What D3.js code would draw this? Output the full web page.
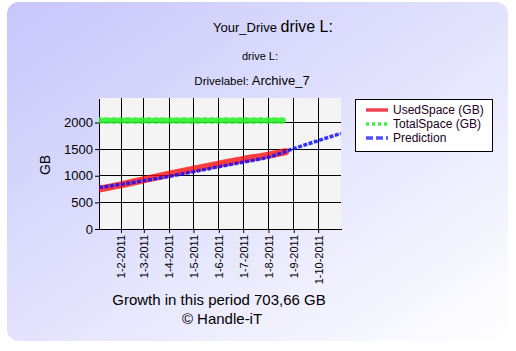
<!DOCTYPE html>
<html>
<head>
<meta charset="utf-8">
<script src="https://cdn.jsdelivr.net/npm/d3@7"></script>
<style>
  body { margin: 0; background: #fff; }
  svg { display: block; font-family: "Liberation Sans", Arial, sans-serif; }
</style>
</head>
<body>
<svg id="chart" width="516" height="351"></svg>
<script>
// data
const usedDates = ["2011-01-05", "2011-02-01", "2011-03-01", "2011-04-01", "2011-05-01", "2011-06-01", "2011-07-01", "2011-08-01", "2011-08-22"];
const usedValues = [748, 830, 925, 1030, 1125, 1218, 1305, 1387, 1451];
const totalDates = ["2011-01-05", "2011-08-22"];
const totalValues = [2036, 2036];
const predDates = ["2011-01-05", "2011-02-01", "2011-03-01", "2011-04-01", "2011-05-01", "2011-06-01", "2011-07-01", "2011-08-01", "2011-09-01", "2011-10-29"];
const predValues = [780, 838, 908, 987, 1076, 1169, 1255, 1350, 1510, 1795];
const tickDates = ["2011-02-01", "2011-03-01", "2011-04-01", "2011-05-01", "2011-06-01", "2011-07-01", "2011-08-01", "2011-09-01", "2011-10-01"];
const yTicks = [0, 500, 1000, 1500, 2000];
const legendNames = ["UsedSpace (GB)", "TotalSpace (GB)", "Prediction"];

const parse = d3.utcParse("%Y-%m-%d");
const svg = d3.select("#chart");

// background panel
const defs = svg.append("defs");
const grad = defs.append("linearGradient").attr("id", "bg")
    .attr("x1", "0%").attr("y1", "0%").attr("x2", "100%").attr("y2", "100%");
grad.append("stop").attr("offset", "0%").attr("stop-color", "#c6c6fb");
grad.append("stop").attr("offset", "100%").attr("stop-color", "#ffffff");
svg.append("rect").attr("x", 7).attr("y", 2).attr("width", 501).attr("height", 339)
    .attr("rx", 12).attr("fill", "url(#bg)");

const plot = { left: 99, right: 341, top: 98, bottom: 229 };

const x = d3.scaleUtc()
    .domain([parse("2011-01-05"), parse("2011-10-29")])
    .range([plot.left, plot.right]);
const y = d3.scaleLinear()
    .domain([0, 2460])
    .range([plot.bottom, plot.top]);

// plot background
svg.append("rect").attr("x", plot.left).attr("y", plot.top)
    .attr("width", plot.right - plot.left).attr("height", plot.bottom - plot.top)
    .attr("fill", "#f4f4f4");

// grid
svg.append("g").selectAll("line").data(tickDates.map(parse)).join("line")
    .attr("x1", d => x(d)).attr("x2", d => x(d))
    .attr("y1", plot.top).attr("y2", plot.bottom)
    .attr("stroke", "#000").attr("shape-rendering", "crispEdges");
svg.append("g").selectAll("line").data(yTicks.slice(1)).join("line")
    .attr("x1", plot.left).attr("x2", plot.right)
    .attr("y1", d => y(d)).attr("y2", d => y(d))
    .attr("stroke", "#000").attr("shape-rendering", "crispEdges");

// axes
const xAxis = svg.append("g")
    .attr("transform", `translate(0,${plot.bottom})`)
    .call(d3.axisBottom(x).tickValues(tickDates.map(parse))
        .tickFormat(d3.utcFormat("%-d-%-m-%Y")).tickSize(4).tickSizeOuter(0));
xAxis.select(".domain").attr("stroke", "#000");
xAxis.selectAll("text")
    .attr("transform", "rotate(-90)")
    .attr("x", -6).attr("y", 0).attr("dy", "0.35em")
    .style("text-anchor", "end")
    .style("font-size", "11px")
    .attr("fill", "#000");

const yAxis = svg.append("g")
    .attr("transform", `translate(${plot.left},0)`)
    .call(d3.axisLeft(y).tickValues(yTicks).tickFormat(d3.format("d")).tickSize(4).tickSizeOuter(0));
yAxis.select(".domain").attr("stroke", "#000");
yAxis.selectAll("text").style("font-size", "13px").attr("fill", "#000").attr("x", -6);
svg.selectAll(".tick line").attr("stroke", "#000");
svg.selectAll(".domain").attr("shape-rendering", "crispEdges");

svg.append("text")
    .attr("transform", "translate(50,165) rotate(-90)")
    .attr("text-anchor", "middle")
    .style("font-size", "14px")
    .text("GB");

// series
const line = d3.line().x(d => x(d[0])).y(d => y(d[1])).curve(d3.curveMonotoneX);
const used = usedDates.map((d, i) => [parse(d), usedValues[i]]);
const total = totalDates.map((d, i) => [parse(d), totalValues[i]]);
const pred = predDates.map((d, i) => [parse(d), predValues[i]]);

const clip = defs.append("clipPath").attr("id", "clip");
clip.append("rect").attr("x", plot.left).attr("y", plot.top)
    .attr("width", plot.right - plot.left).attr("height", plot.bottom - plot.top);

const series = svg.append("g").attr("clip-path", "url(#clip)");
series.append("path").datum(total).attr("d", line)
    .attr("fill", "none").attr("stroke", "#22ee22").attr("stroke-opacity", 0.85)
    .attr("stroke-width", 6.5).attr("stroke-linecap", "round")
    .attr("stroke-dasharray", "1.5,5.5");
series.append("path").datum(used).attr("d", line)
    .attr("fill", "none").attr("stroke", "#ff0000").attr("stroke-opacity", 0.75)
    .attr("stroke-width", 7).attr("stroke-linecap", "round");
series.append("path").datum(pred).attr("d", line)
    .attr("fill", "none").attr("stroke", "#1010ff").attr("stroke-opacity", 0.85)
    .attr("stroke-width", 3.5).attr("stroke-dasharray", "4,1.5");

// legend
const legend = svg.append("g");
legend.append("rect").attr("x", 355.5).attr("y", 99.5).attr("width", 137).attr("height", 52)
    .attr("fill", "#ffffff").attr("stroke", "#000");
const legendStyles = [
    { color: "#f04050", dash: null },
    { color: "#44ee44", dash: "3,3" },
    { color: "#5050ff", dash: "7,3" }
];
legendNames.forEach((name, i) => {
    const ly = 110 + i * 14;
    legend.append("line").attr("x1", 366).attr("x2", 388).attr("y1", ly).attr("y2", ly)
        .attr("stroke", legendStyles[i].color).attr("stroke-width", 3.5)
        .attr("stroke-dasharray", legendStyles[i].dash);
    legend.append("text").attr("x", 393).attr("y", ly).attr("dy", "0.35em")
        .style("font-size", "12px").attr("fill", "#200020").text(name);
});

// titles
const t1 = svg.append("text").attr("x", 273).attr("y", 32).attr("text-anchor", "middle").attr("fill", "#000");
t1.append("tspan").style("font-size", "13px").text("Your_Drive ");
t1.append("tspan").style("font-size", "16px").text("drive L:");
svg.append("text").attr("x", 260).attr("y", 60).attr("text-anchor", "middle")
    .style("font-size", "11px").text("drive L:");
const t3 = svg.append("text").attr("x", 252).attr("y", 85).attr("text-anchor", "middle");
t3.append("tspan").style("font-size", "11.5px").text("Drivelabel: ");
t3.append("tspan").style("font-size", "13px").text("Archive_7");

svg.append("text").attr("x", 219).attr("y", 305).attr("text-anchor", "middle")
    .style("font-size", "15px").text("Growth in this period 703,66 GB");
svg.append("text").attr("x", 222).attr("y", 324).attr("text-anchor", "middle")
    .style("font-size", "15px").text("© Handle-iT");
</script>
</body>
</html>
